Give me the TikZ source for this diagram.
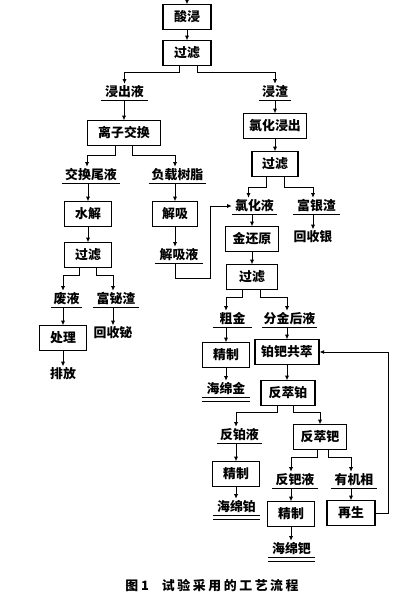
\documentclass[tikz,border=0pt]{standalone}
\usepackage{fontspec}
\setmainfont{Noto Sans CJK SC}
\usetikzlibrary{calc,arrows.meta}

\tikzset{
  proc/.style={draw, line width=0.9pt, minimum width=1.41cm, minimum height=0.73cm, inner sep=0pt},
  lab/.style={inner sep=0pt, minimum height=0.48cm,
    append after command={(\tikzlastnode.south west) edge[line width=0.7pt] (\tikzlastnode.south east)}},
  prod/.style={lab,
    append after command={([yshift=-0.12cm]\tikzlastnode.south west) edge[line width=0.7pt] ([yshift=-0.12cm]\tikzlastnode.south east)}},
  arr/.style={-{Latex[length=4pt,width=3.6pt]}, line width=0.8pt},
}

\begin{document}
\begin{tikzpicture}[x=0.03cm, y=-0.03cm, font=\fontsize{11}{13}\selectfont\bfseries]
    \useasboundingbox (0,0) rectangle (417,600);
    \coordinate (in) at (187,0);
    % boxes
    \node[proc, minimum width=1.44cm] (sj) at (187,17) {酸浸};
    \node[proc, minimum width=1.44cm] (gl1) at (187,53) {过滤};
    \node[proc, minimum width=2.19cm] (lzjh) at (124,133) {离子交换};
    \node[proc, minimum width=1.89cm] (lhjc) at (275,126) {氯化浸出};
    \node[proc, minimum width=1.38cm] (gl2) at (275,164) {过滤};
    \node[proc] (sjie) at (88,214) {水解};
    \node[proc] (gl3) at (88,255) {过滤};
    \node[proc, minimum width=1.35cm] (jx) at (175,214) {解吸};
    \node[proc, minimum width=1.59cm] (jhy) at (252,239) {金还原};
    \node[proc, minimum width=1.53cm] (gl4) at (252,277) {过滤};
    \node[proc] (cl) at (63,338) {处理};
    \node[proc] (jz1) at (226,355) {精制};
    \node[proc, minimum width=1.92cm] (cq) at (287,352) {铂钯共萃};
    \node[proc, minimum width=1.62cm] (fcb) at (288,393) {反萃铂};
    \node[proc, minimum width=1.59cm] (fcp) at (320,437) {反萃钯};
    \node[proc] (jz2) at (236,474) {精制};
    \node[proc] (jz3) at (291,514) {精制};
    \node[proc, minimum width=1.44cm] (zs) at (351,513) {再生};
    % underlined streams
    \node[lab, minimum width=1.41cm] (jcy) at (124.5,92) {浸出液};
    \node[lab, minimum width=0.96cm] (jz) at (275,92) {浸渣};
    \node[lab, minimum width=1.74cm] (jhwy) at (91,175) {交换尾液};
    \node[lab, minimum width=1.71cm] (fzsz) at (177.5,175) {负载树脂};
    \node[lab, minimum width=1.44cm] (jxy) at (179,255) {解吸液};
    \node[lab, minimum width=1.35cm] (lhy) at (254.5,206) {氯化液};
    \node[lab, minimum width=1.41cm] (fyz) at (316.5,206) {富银渣};
    \node[lab, minimum width=0.93cm] (fy) at (66.5,299) {废液};
    \node[lab, minimum width=1.38cm] (fbz) at (116,299) {富铋渣};
    \node[lab, minimum width=1.17cm] (cj) at (232.5,319) {粗金};
    \node[lab, minimum width=1.65cm] (fjhy) at (289.5,319) {分金后液};
    \node[lab, minimum width=1.35cm] (fby) at (239.5,435) {反铂液};
    \node[lab, minimum width=1.38cm] (fpy) at (295,480) {反钯液};
    \node[lab, minimum width=1.38cm] (yjx) at (354,480) {有机相};
    \node[prod, minimum width=1.44cm] (hmj) at (226,389) {海绵金};
    \node[prod, minimum width=1.41cm] (hmb) at (236.5,507) {海绵铂};
    \node[prod, minimum width=1.41cm] (hmp) at (291.5,549) {海绵钯};
    % plain texts
    \node[inner sep=1pt] (hsy) at (313,237) {回收银};
    \node[inner sep=1pt] (hsb) at (113,333) {回收铋};
    \node[inner sep=1pt] (pf) at (63,374) {排放};
    \node (cap) at (212,586) {图\ 1\quad{\addfontfeature{LetterSpace=20}试验采用的工艺流程}};
    % connectors
    \draw[arr] (in) -- (sj.north);
    \draw[arr] (sj) -- (gl1);
    \draw[arr] ($(gl1.south)+(-8,0)$) -- ++(0,7) -| (jcy.north);
    \draw[arr] ($(gl1.south)+(10,0)$) -- ++(0,7) -| (jz.north);
    \draw[arr] (jcy.south -| lzjh.north) -- (lzjh.north);
    \draw[arr] (jz.south -| lhjc.north) -- (lhjc.north);
    \draw[arr] ($(lzjh.south)+(-9,0)$) -- ++(0,10) -| ($(jhwy.north)+(-4,0)$);
    \draw[arr] ($(lzjh.south)+(8,0)$) -- ++(0,10) -| (fzsz.north -| jx.north);
    \draw[arr] (jhwy.south -| sjie.north) -- (sjie.north);
    \draw[arr] (fzsz.south -| jx.north) -- (jx.north);
    \draw[arr] (jx.south) -- (jx.south |- jxy.north);
    \draw[arr] (jxy.south -| jx.south) -- ++(0,15) -| ($(lhy.west)+(-21,0)$) -- (lhy.west);
    \draw[arr] (sjie) -- (gl3);
    \draw[arr] (lhjc) -- (gl2);
    \draw[arr] ($(gl2.south)+(-9,0)$) -- ++(0,11) -| ($(lhy.north)+(-6,0)$);
    \draw[arr] ($(gl2.south)+(9,0)$) -- ++(0,11) -| (fyz.north -| hsy.north);
    \draw[arr] (lhy.south -| jhy.north) -- (jhy.north);
    \draw[arr] (fyz.south -| hsy.north) -- (hsy.north);
    \draw[arr] (jhy) -- (gl4);
    \draw[arr] ($(gl3.south)+(-9,0)$) -- ++(0,8) -| (fy.north -| cl.north);
    \draw[arr] ($(gl3.south)+(8,0)$) -- ++(0,8) -| (fbz.north -| hsb.north);
    \draw[arr] (fy.south -| cl.north) -- (cl.north);
    \draw[arr] (cl) -- (pf);
    \draw[arr] (fbz.south -| hsb.north) -- (hsb.north);
    \draw[arr] ($(gl4.south)+(-10,0)$) -- ++(0,8) -| (cj.north -| jz1.north);
    \draw[arr] ($(gl4.south)+(8,0)$) -- ++(0,8) -| (fjhy.north -| cq.north);
    \draw[arr] (cj.south -| jz1.north) -- (jz1.north);
    \draw[arr] (jz1.south) -- (jz1.south |- hmj.north);
    \draw[arr] (fjhy.south -| cq.north) -- (cq.north);
    \draw[arr] (cq.south) -- (cq.south |- fcb.north);
    \draw[arr] ($(fcb.south)+(-11,0)$) -- ++(0,7) -| (fby.north -| jz2.north);
    \draw[arr] ($(fcb.south)+(5,0)$) -- ++(0,7) -| (fcp.north);
    \draw[arr] (fby.south -| jz2.north) -- (jz2.north);
    \draw[arr] (jz2.south) -- (jz2.south |- hmb.north);
    \draw[arr] ($(fcp.south)+(-3,0)$) -- ++(0,8) -| (fpy.north -| jz3.north);
    \draw[arr] ($(fcp.south)+(8,0)$) -- ++(0,8) -| (yjx.north -| zs.north);
    \draw[arr] (fpy.south -| jz3.north) -- (jz3.north);
    \draw[arr] (jz3.south) -- (jz3.south |- hmp.north);
    \draw[arr] (yjx.south -| zs.north) -- (zs.north);
    \draw[arr] (zs.east) -- ++(13,0) |- (cq.east);
\end{tikzpicture}
\end{document}
